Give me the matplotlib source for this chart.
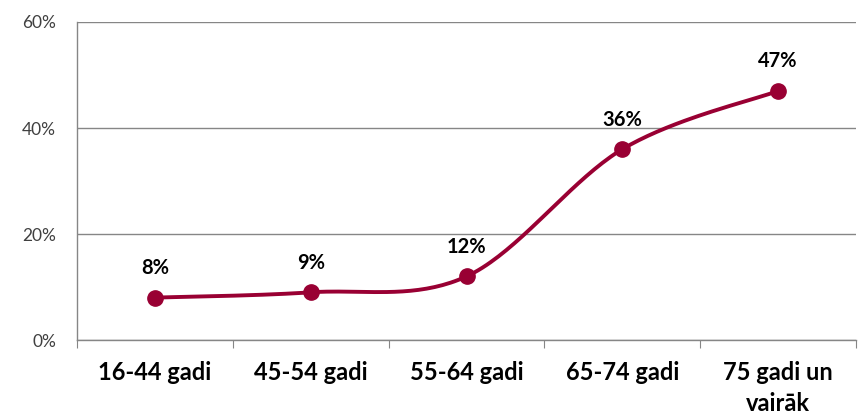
import numpy as np
import matplotlib.pyplot as plt

plt.rcParams['font.family'] = ['Lato', 'DejaVu Sans']

categories = ['16-44 gadi', '45-54 gadi', '55-64 gadi', '65-74 gadi', '75 gadi un\nvairāk']
values = [8, 9, 12, 36, 47]
y_ticks = [0, 20, 40, 60]

line_color = '#990033'
axis_color = '#868686'


def smooth_curve(xs, ys, steps=40):
    # Catmull-Rom style Bezier segments, like a spreadsheet "smoothed line"
    pts = np.column_stack([xs, ys]).astype(float)
    n = len(pts)
    out = []
    for i in range(n - 1):
        p0 = pts[max(i - 1, 0)]
        p1 = pts[i]
        p2 = pts[i + 1]
        p3 = pts[min(i + 2, n - 1)]
        c1 = p1 + (p2 - p0) / 6
        c2 = p2 - (p3 - p1) / 6
        t = np.linspace(0, 1, steps)[:, None]
        seg = ((1 - t) ** 3) * p1 + 3 * ((1 - t) ** 2) * t * c1 + 3 * (1 - t) * t ** 2 * c2 + t ** 3 * p2
        out.append(seg if i == 0 else seg[1:])
    seg = np.vstack(out)
    return seg[:, 0], seg[:, 1]


fig = plt.figure(figsize=(8.66, 4.19), dpi=100)
ax = fig.add_axes([0.0889, 0.1885, 0.8996, 0.759])

x = np.arange(len(values))
sx, sy = smooth_curve(x, values)
ax.plot(sx, sy, color=line_color, linewidth=2.8, solid_capstyle='round', zorder=3)
ax.plot(x, values, linestyle='none', marker='o', markersize=11,
        color=line_color, zorder=4)

for xi, v in zip(x, values):
    ax.annotate(f'{v}%', (xi, v), xytext=(0, 17), textcoords='offset points',
                ha='center', va='baseline', fontsize=14.5, fontweight='bold', color='black')

ax.set_xlim(-0.5, len(values) - 0.5)
ax.set_ylim(0, 60)
ax.set_yticks(y_ticks)
ax.set_yticklabels([f'{t}%' for t in y_ticks])
ax.yaxis.grid(True, color=axis_color, linewidth=1)
ax.set_axisbelow(True)

# category labels between boundary ticks
ax.set_xticks(np.arange(len(values) + 1) - 0.5)
ax.set_xticklabels([])
ax.set_xticks(x, minor=True)
ax.set_xticklabels(categories, minor=True, fontsize=17, fontweight='bold',
                   linespacing=1.45)
ax.tick_params(axis='x', which='major', length=6, color=axis_color, direction='out')
ax.tick_params(axis='x', which='minor', length=0, pad=15)
ax.tick_params(axis='y', length=0, labelsize=12.5, colors='#404040', pad=15)

for side in ['top', 'right']:
    ax.spines[side].set_visible(False)
for side in ['left', 'bottom']:
    ax.spines[side].set_color(axis_color)
    ax.spines[side].set_linewidth(1)

fig.savefig('out.png', dpi=100)
